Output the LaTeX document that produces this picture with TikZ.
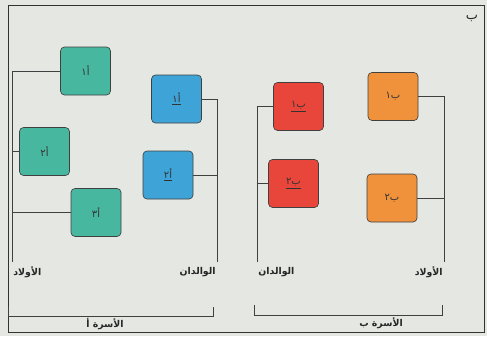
\documentclass[tikz,border=0pt]{standalone}
\usepackage{fontspec}
\usepackage{xcolor}
\usetikzlibrary{positioning,calc}
\TeXXeTstate=1
\newfontfamily\arabicfont[Script=Arabic]{DejaVu Sans}
\newcommand{\ar}[1]{{\arabicfont\beginR #1\endR}}
\definecolor{paper}{RGB}{229,231,226}
\definecolor{tealbox}{RGB}{72,183,160}
\definecolor{bluebox}{RGB}{62,163,214}
\definecolor{redbox}{RGB}{232,70,58}
\definecolor{orangebox}{RGB}{240,146,60}
\tikzset{
  famblock/.style={draw=black!75,line width=0.55pt,rounded corners=1.2mm,minimum width=50*0.03cm,minimum height=48*0.03cm,inner sep=0pt,font=\fontsize{8.5}{10}\selectfont,text=black!80},
  spine/.style={draw=black!75,line width=0.45pt},
  caption/.style={font=\fontsize{8}{10}\selectfont\bfseries,text=black!85,inner sep=1pt}
}
\begin{document}
\begin{tikzpicture}[x=0.03cm,y=-0.03cm]
  \fill[paper] (0,0) rectangle (487,336);
  \useasboundingbox (0,0) rectangle (487,336);
  \draw[black!80,line width=0.8pt] (8,5) rectangle (484,332);
  \node[caption,font=\fontsize{11}{12}\selectfont] (mark) at (472,18) {\ar{ب}};
  % family A
  \node[famblock,fill=tealbox] (a1) at (85.5,71) {\ar{أ١}};
  \node[famblock,fill=tealbox] (a2) at (44.5,151.5) {\ar{أ٢}};
  \node[famblock,fill=tealbox] (a3) at (96,212.5) {\ar{أ٣}};
  \node[famblock,fill=bluebox] (pa1) at (176.5,99) {\underline{\ar{أ١}}};
  \node[famblock,fill=bluebox] (pa2) at (168,175) {\underline{\ar{أ٢}}};
  % family B
  \node[famblock,fill=redbox] (pb1) at (298.5,106.5) {\underline{\ar{ب١}}};
  \node[famblock,fill=redbox] (pb2) at (293.5,183.5) {\underline{\ar{ب٢}}};
  \node[famblock,fill=orangebox] (b1) at (393,96.5) {\ar{ب١}};
  \node[famblock,fill=orangebox] (b2) at (392,198) {\ar{ب٢}};
  % spines
  \coordinate (kidsA) at (12,262);
  \coordinate (parA) at (217,262);
  \coordinate (parB) at (257,262);
  \coordinate (kidsB) at (444,262);
  \draw[spine] (a1.west) -| (kidsA);
  \foreach \n in {a2,a3}{\draw[spine] (\n.west) -- (\n.west -| kidsA);}
  \draw[spine] (pa1.east) -| (parA);
  \draw[spine] (pa2.east) -- (pa2.east -| parA);
  \draw[spine] (pb1.west) -| (parB);
  \draw[spine] (pb2.west) -- (pb2.west -| parB);
  \draw[spine] (b1.east) -| (kidsB);
  \draw[spine] (b2.east) -- (b2.east -| kidsB);
  \node[caption,anchor=north west] (lkA) at ([yshift=-3]kidsA) {\ar{الأولاد}};
  \node[caption,anchor=north east] (lpA) at ([yshift=-3]parA) {\ar{الوالدان}};
  \node[caption,anchor=north west] (lpB) at ([yshift=-3]parB) {\ar{الوالدان}};
  \node[caption,anchor=north east] (lkB) at ([yshift=-3]kidsB) {\ar{الأولاد}};
  % brackets
  \draw[spine] (8,307) |- (213,316) -- (213,307);
  \draw[spine] (254,305) |- (442,315) -- (442,305);
  \node[caption] (famA) at (105,324) {\ar{الأسرة أ}};
  \node[caption] (famB) at (381,323) {\ar{الأسرة ب}};
\end{tikzpicture}
\end{document}
